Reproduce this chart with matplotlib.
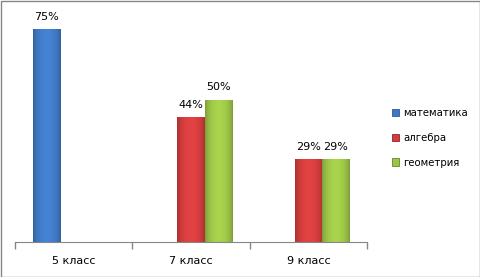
import numpy as np
import matplotlib
matplotlib.use("Agg")
import matplotlib.pyplot as plt
from matplotlib.patches import Patch, Rectangle

categories = ["5 класс", "7 класс", "9 класс"]
series_names = ["математика", "алгебра", "геометрия"]
matematika = [75, np.nan, np.nan]
algebra = [np.nan, 44, 29]
geometria = [np.nan, 50, 29]

colors = ["#3f79c4", "#d23d3d", "#9cc447"]
dark = ["#2b5a94", "#8f2626", "#66862a"]


def shade(base, n=64):
    # horizontal gradient, darker at the edges like the Excel bevel
    rgb = np.array(matplotlib.colors.to_rgb(base))
    t = np.linspace(0, 1, n)
    f = 0.78 + 0.3 * np.sin(np.pi * t) ** 0.6
    img = np.clip(rgb[None, :] * f[:, None], 0, 1)
    return img[None, :, :]


def main():
    fig = plt.figure(figsize=(4.81, 2.77), dpi=100)
    ax = fig.add_axes([15 / 481, 35 / 277, 352 / 481, 227 / 277])

    x = np.arange(len(categories))
    w = 0.231
    data = [matematika, algebra, geometria]
    for k, vals in enumerate(data):
        bars = ax.bar(x + (k - 1) * w, vals, w, color=colors[k],
                      edgecolor=dark[k], linewidth=0.6, zorder=2)
        for b in bars:
            h = b.get_height()
            if np.isnan(h):
                continue
            x0, wd = b.get_x(), b.get_width()
            ax.imshow(shade(colors[k]), extent=[x0, x0 + wd, 0, h],
                      aspect="auto", zorder=2.5, interpolation="bilinear")
        labels = ["" if np.isnan(v) else f"{v:.0f}%" for v in vals]
        ax.bar_label(bars, labels=labels, padding=5.5, fontsize=8)

    ax.set_xlim(-0.5, 2.5)
    ax.set_ylim(0, 80)
    ax.set_xticks(x)
    ax.set_xticklabels(categories, fontsize=8)
    ax.tick_params(axis="x", which="major", length=0, pad=10)
    ax.set_xticks([-0.5, 0.5, 1.5, 2.5], minor=True)
    ax.tick_params(axis="x", which="minor", length=5, color="#868686", width=1)
    ax.set_yticks([])
    for s in ["top", "right", "left"]:
        ax.spines[s].set_visible(False)
    ax.spines["bottom"].set_color("#868686")
    ax.set_facecolor("none")

    handles = [Patch(facecolor=c, edgecolor=d, linewidth=0.6) for c, d in zip(colors, dark)]
    fig.legend(handles, series_names, loc="center left",
               bbox_to_anchor=(0.795, 0.502), frameon=False, fontsize=7.3,
               handlelength=0.75, handleheight=0.75, handletextpad=0.4,
               labelspacing=1.45)

    fig.add_artist(Rectangle((0.5 / 481, 0.5 / 277), 1 - 1 / 481, 1 - 1 / 277,
                             transform=fig.transFigure, fill=False,
                             edgecolor="#868686", linewidth=1))
    fig.savefig("out.png", dpi=100)


if __name__ == "__main__":
    main()
